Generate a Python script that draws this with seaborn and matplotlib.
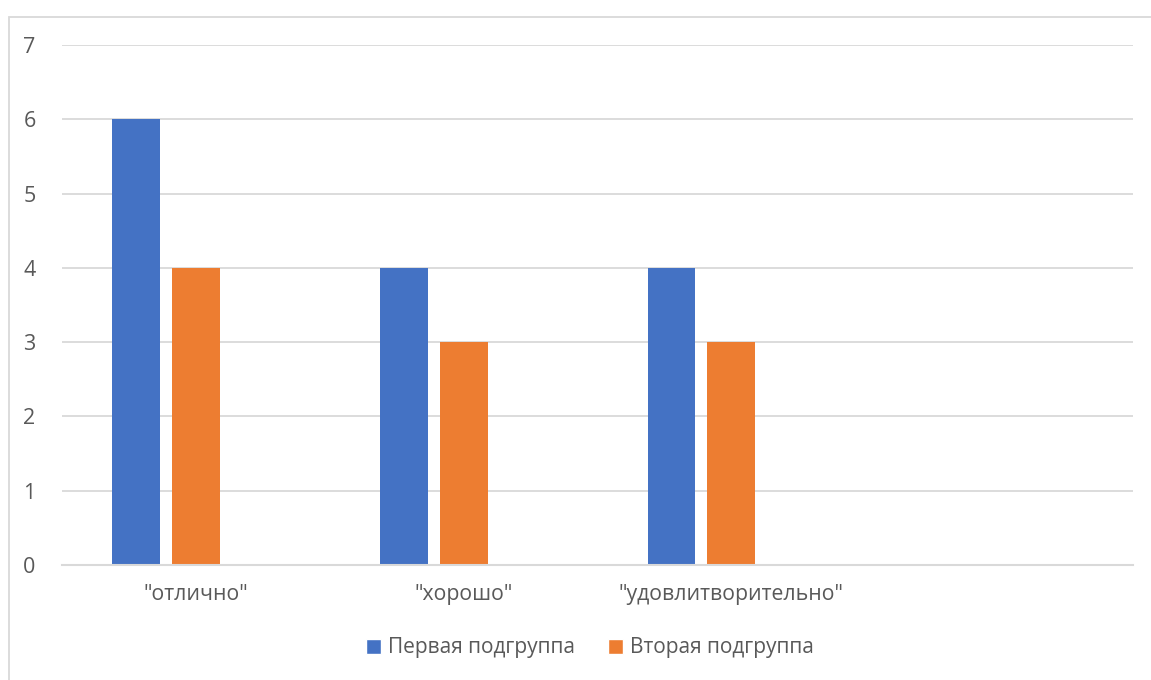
import matplotlib
matplotlib.use("Agg")
import matplotlib.pyplot as plt
from matplotlib.patches import Patch, Rectangle
import pandas as pd
import seaborn as sns

categories = ['"отлично"', '"хорошо"', '"удовлитворительно"', '']
first_group = [6, 4, 4, None]
second_group = [4, 3, 3, None]
third_group = [None, None, None, None]
series_names = ["Первая подгруппа", "Вторая подгруппа", "Ряд 3"]
y_ticks = [0, 1, 2, 3, 4, 5, 6, 7]

colors = ["#4472C4", "#ED7D31", "#A5A5A5"]
text_color = "#595959"
grid_color = "#D9D9D9"

rows = []
for name, vals in zip(series_names, [first_group, second_group, third_group]):
    for cat, v in zip(categories, vals):
        rows.append({"category": cat, "series": name, "value": v})
df = pd.DataFrame(rows).dropna(subset=["value"])

sns.set_theme(style="white")
plt.rcParams["font.family"] = ["Open Sans", "DejaVu Sans"]

fig = plt.figure(figsize=(11.51, 6.8), dpi=100)
ax = fig.add_axes([62 / 1151, 1 - 565 / 680, (1133 - 62) / 1151, (565 - 45) / 680])

sns.barplot(
    data=df, x="category", y="value", hue="series",
    order=categories, hue_order=series_names,
    palette=colors, width=0.67, gap=0.2, dodge=True,
    legend=False, ax=ax, saturation=1, linewidth=0,
)

ax.set_ylim(0, 7)
ax.set_xlim(-0.5, len(categories) - 0.5)
ax.set_yticks(y_ticks)
ax.yaxis.grid(True, color=grid_color, linewidth=1.3)
ax.set_axisbelow(True)
ax.set_xlabel("")
ax.set_ylabel("")
for side in ["top", "right", "left"]:
    ax.spines[side].set_visible(False)
ax.spines["bottom"].set_color(grid_color)
ax.spines["bottom"].set_linewidth(1.5)
ax.tick_params(axis="y", length=0, pad=19, labelsize=15.5, labelcolor=text_color)
ax.tick_params(axis="x", length=0, pad=14, labelsize=15.3, labelcolor=text_color)

handles = [Patch(facecolor=colors[0]), Patch(facecolor=colors[1])]
fig.legend(
    handles, series_names[:2], loc="center",
    bbox_to_anchor=(590 / 1151, 1 - 648 / 680), ncol=2, frameon=False,
    fontsize=15, labelcolor=text_color, handlelength=0.7, handleheight=0.7,
    handletextpad=0.35, columnspacing=1.6,
)

# chart area outline
fig.patches.append(Rectangle((8.5 / 1151, -0.1), 1.2, 1 - 16.5 / 680 + 0.1,
                             transform=fig.transFigure, fill=False,
                             edgecolor=grid_color, linewidth=1.3))

fig.savefig("out.png", dpi=100, facecolor="white")
